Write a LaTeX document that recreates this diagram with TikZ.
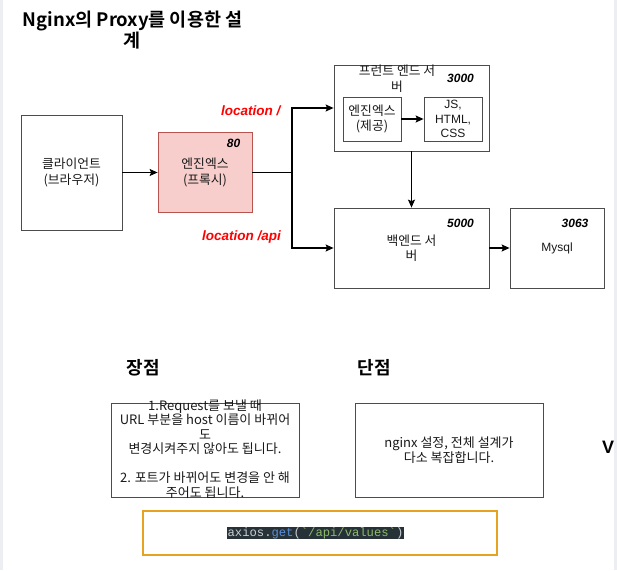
\documentclass[tikz,border=0pt]{standalone}
\usepackage{fontspec}
\setmainfont{Noto Sans CJK KR}[BoldFont={* Bold}]
\newfontfamily\latinfont{Liberation Sans}
\newfontfamily\codefont{Liberation Mono}
\usetikzlibrary{positioning,arrows.meta}
\definecolor{proxyfill}{HTML}{F8CECC}
\definecolor{proxyline}{HTML}{B85450}
\definecolor{codebg}{HTML}{263238}
\definecolor{codeplain}{HTML}{C8CDD2}
\definecolor{codeblue}{HTML}{5B8FD9}
\definecolor{codegreen}{HTML}{8DBB6A}
\definecolor{boxorange}{HTML}{E5A320}
\definecolor{edgegrey}{HTML}{ECEEF1}

\begin{document}
\begin{tikzpicture}[x=1pt, y=-1pt, >={Stealth[length=8pt,width=7pt,inset=1.5pt]},
  block/.style={rectangle, draw=black!70, line width=0.8pt, text=black!90, align=center, font=\fontsize{12.8}{15.5}\selectfont},
  port/.style={font=\latinfont\bfseries\itshape\fontsize{12}{14}\selectfont},
  route/.style={text=red, font=\latinfont\bfseries\itshape\fontsize{13.5}{16}\selectfont},
  heading/.style={font=\bfseries\fontsize{18}{21}\selectfont, align=center},
  conn/.style={line width=1.2pt}]
  {
  \useasboundingbox (0,0) rectangle (617,570);
  \fill[edgegrey] (0,0) rectangle (3,570);
  \fill[edgegrey] (614,0) rectangle (617,570);

  \node[heading, font=\bfseries\fontsize{18.5}{21}\selectfont] (title) at (132.5,30) {Nginx의 Proxy를 이용한 설\\계};

  \node[block, minimum width=101pt, minimum height=115pt] (client) at (71.5,172.5) {클라이언트\\(브라우저)};
  \node[block, fill=proxyfill, draw=proxyline, minimum width=94pt, minimum height=80pt, right of=client, node distance=133.5pt] (proxy) {엔진엑스\\(프록시)};
  \node[coordinate, right of=proxy, node distance=87pt] (split) {};
  \node[block, minimum width=155pt, minimum height=80pt] (back) at (411.5,248) {백엔드 서\\버};
  \node[block, minimum width=155pt, minimum height=86pt, above of=back, node distance=140pt] (front) {};
  \node[block, minimum width=94pt, minimum height=80pt, right of=back, node distance=145.5pt, font=\latinfont\fontsize{12}{14}\selectfont] (mysql) {Mysql};
  \node[block, draw=none, font=\fontsize{12.8}{16}\selectfont] (frontlbl) at (397,78.5) {프런트 엔드 서\\버};
  \node[block, minimum width=58pt, minimum height=44pt] (ngx) at (372,119) {엔진엑스\\(제공)};
  \node[block, minimum width=58pt, minimum height=44pt, right of=ngx, node distance=81pt, font=\latinfont\fontsize{12}{14.5}\selectfont] (static) {JS,\\HTML,\\CSS};

  \node[port] (p80) at (233.5,143) {80};
  \node[port] (p3000) at (460.5,78) {3000};
  \node[port] (p5000) at (460.5,223) {5000};
  \node[port] (p3063) at (575,223) {3063};
  \node[route, anchor=east] (loc) at (284,111) {location /};
  \node[route, anchor=east] (locapi) at (284.5,237) {location /api};

  \draw[conn, ->] (client) -- (proxy);
  \draw[conn] (proxy) -- (split);
  \draw[conn, ->] (split) |- (front.west);
  \draw[conn, ->] (split) |- (back.west);
  \draw[conn, ->] (ngx) -- (static);
  \draw[conn, ->] (front) -- (back);
  \draw[conn, ->] (back) -- (mysql);

  \node[heading] (pros) at (143.5,368) {장점};
  \node[heading] (cons) at (374,368) {단점};
  \node[block, minimum width=188pt, minimum height=94pt] (prosbox) at (205,450) {};
  \node[block, draw=none, font=\fontsize{13}{14.5}\selectfont] (prostext) at (205,449) {1.Request를 보낼 때\\URL 부분을 host 이름이 바뀌어\\도\\변경시켜주지 않아도 됩니다.\\[14.5pt]2. 포트가 바뀌어도 변경을 안 해\\주어도 됩니다.};
  \node[block, minimum width=188pt, minimum height=94pt, font=\fontsize{13}{15}\selectfont] (consbox) at (449,450) {nginx 설정, 전체 설계가\\다소 복잡합니다.};
  \node[font=\latinfont\bfseries\fontsize{18}{20}\selectfont] (more) at (608,447) {V};

  \node[rectangle, draw=boxorange, line width=2pt, minimum width=354pt, minimum height=44pt] (codebox) at (320,533) {};
  \node[fill=codebg, inner sep=0.5pt, font=\codefont\fontsize{12.2}{13}\selectfont] (code) at (315.5,533)
    {\color{codeplain}axios.\color{codeblue}get\color{codeplain}(\color{codegreen}`/api/values`\color{codeplain})};
  }
\end{tikzpicture}
\end{document}
